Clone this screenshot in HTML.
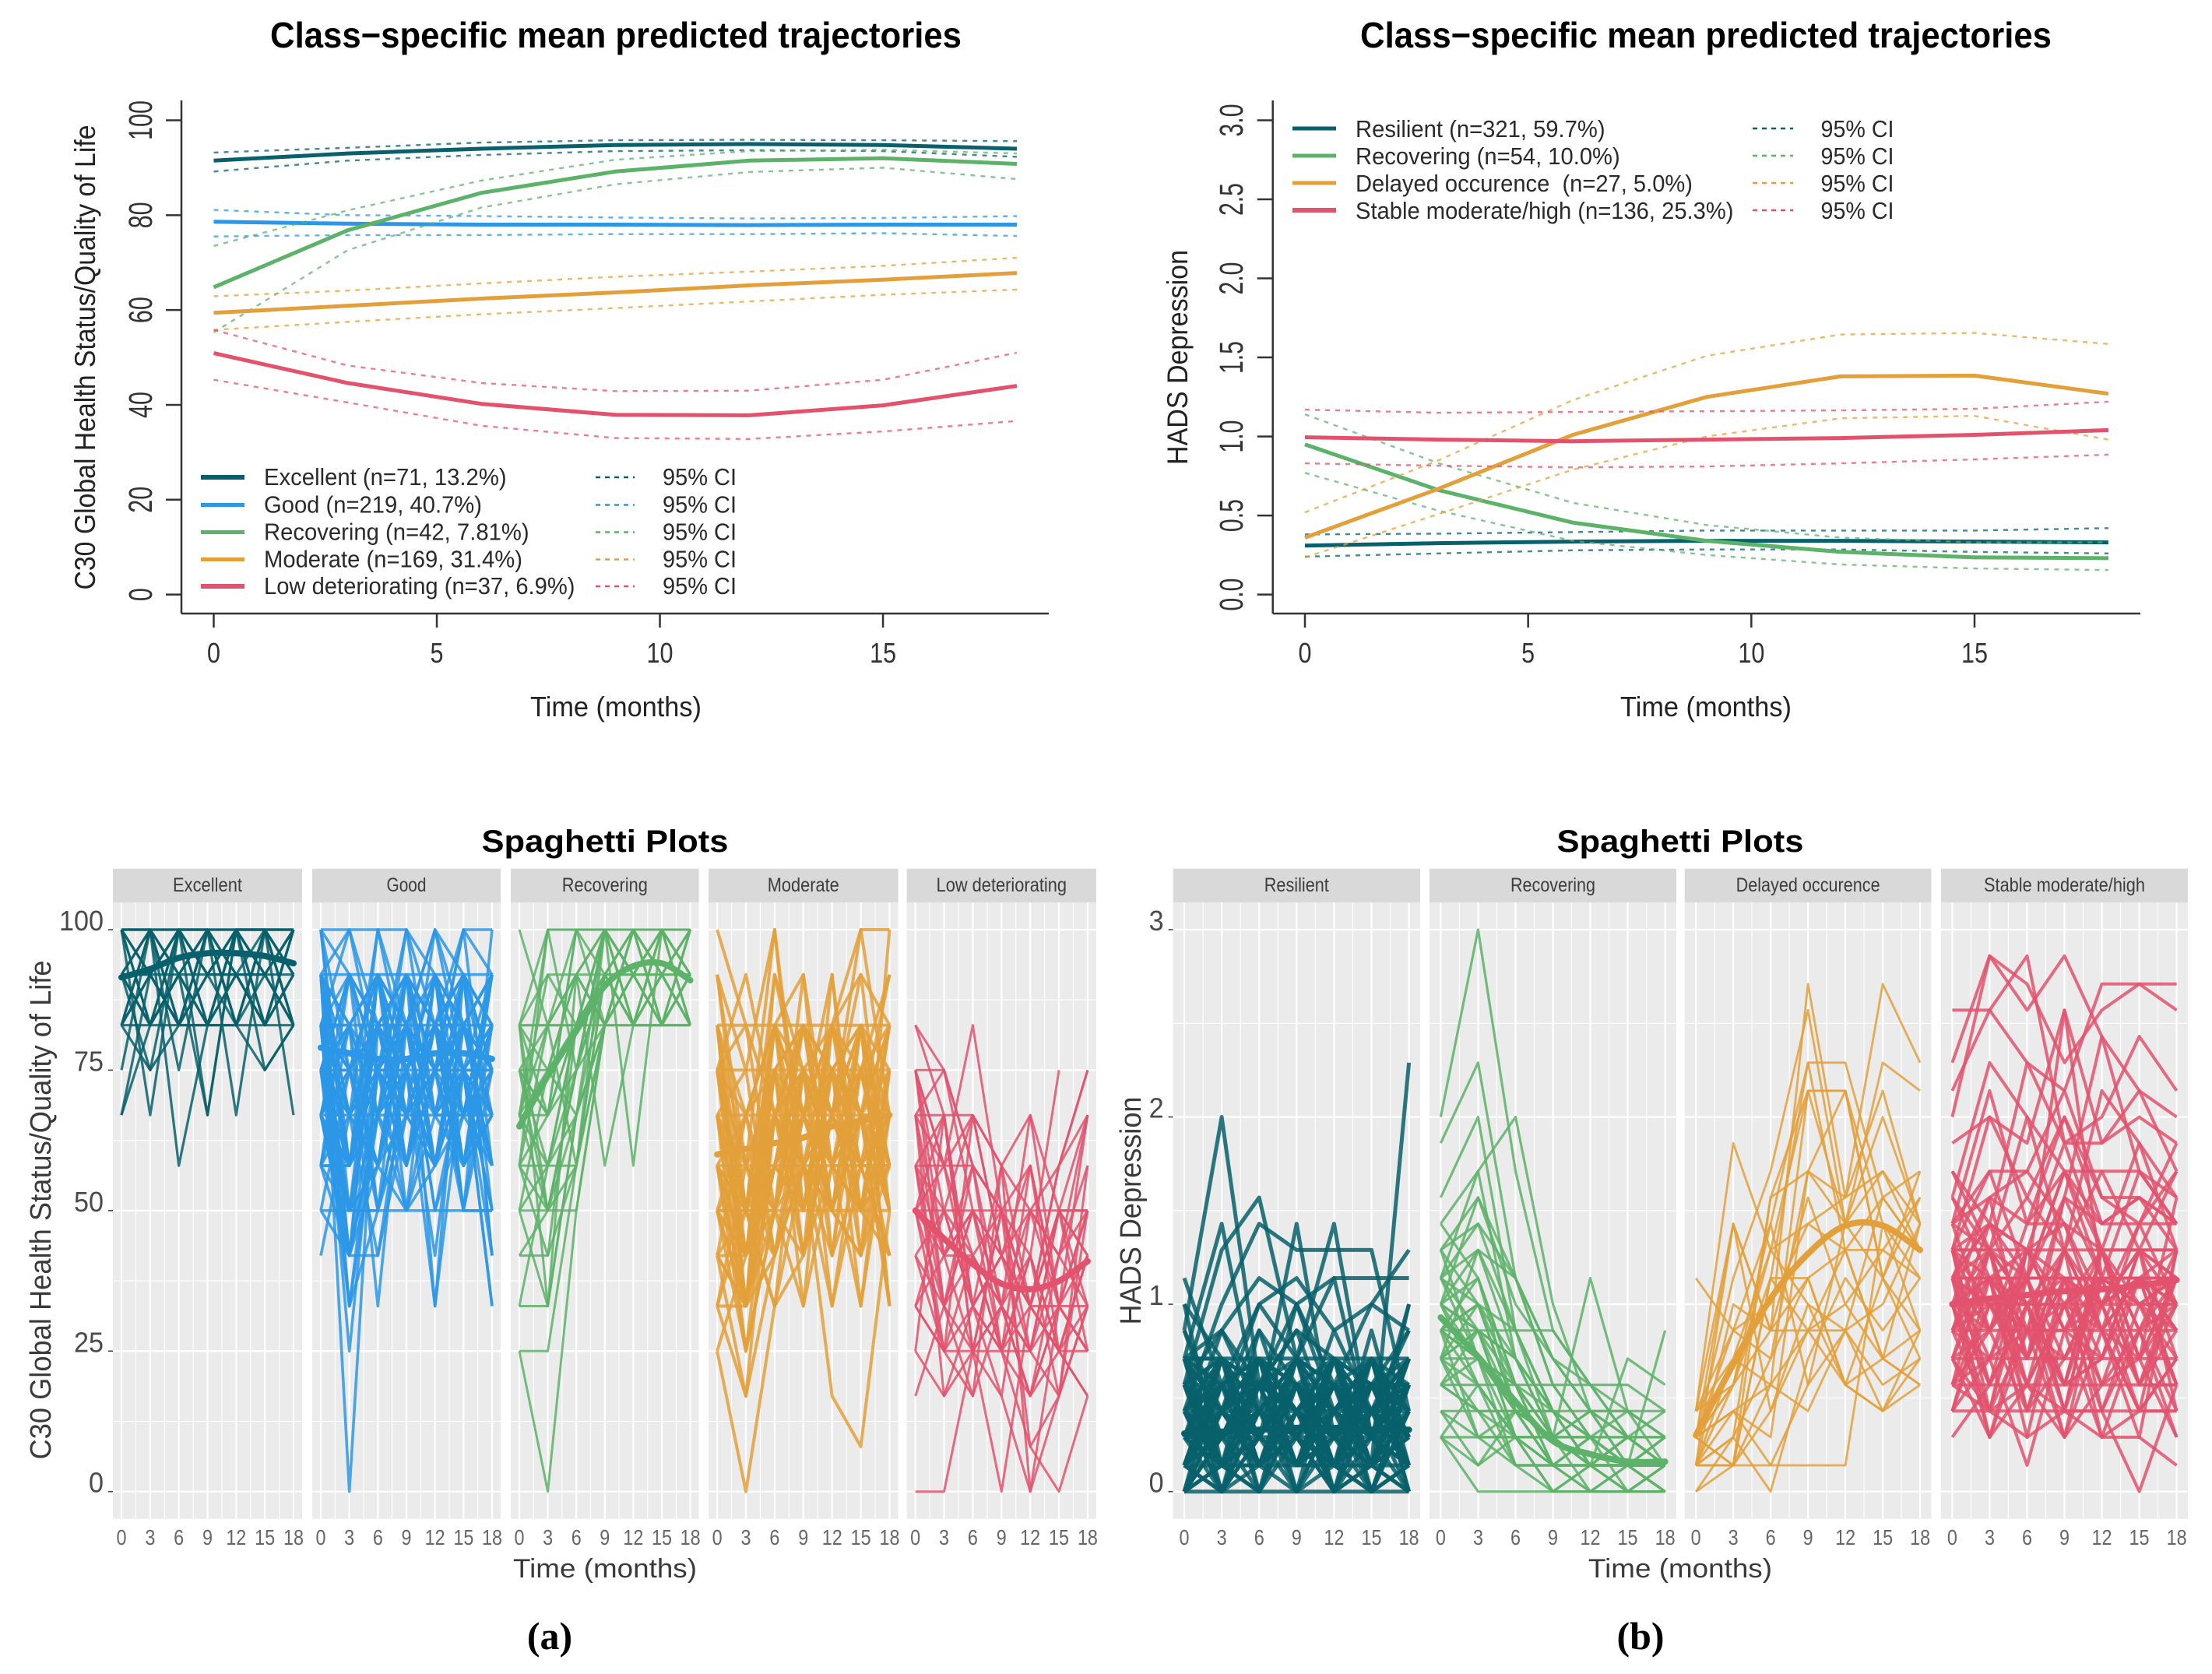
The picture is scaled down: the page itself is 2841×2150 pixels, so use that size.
<!DOCTYPE html>
<html lang="en">
<head>
<meta charset="utf-8">
<title>Class-specific trajectories and spaghetti plots</title>
<style>
html,body{margin:0;padding:0;background:#fff}
svg{display:block}
text{font-family:"Liberation Sans",sans-serif}
.title{font-weight:bold;font-size:46px;fill:#000}
.axt{font-size:36px;fill:#222}
.roty{font-size:37px;fill:#222}
.leg{font-size:31px;fill:#2a2a2a}
.spt{font-weight:bold;font-size:40px;fill:#000}
.cap{font-family:"Liberation Serif",serif;font-weight:bold;font-size:50px;fill:#000}
</style>
</head>
<body>
<svg id="figure" xmlns="http://www.w3.org/2000/svg" width="2841" height="2150" viewBox="0 0 2841 2150">
  <rect x="0" y="0" width="2841" height="2150" fill="#fff"/>

  <text class="title" x="791" y="61" text-anchor="middle" textLength="888" lengthAdjust="spacingAndGlyphs">Class−specific mean predicted trajectories</text>
  <text class="title" x="2191" y="61" text-anchor="middle" textLength="888" lengthAdjust="spacingAndGlyphs">Class−specific mean predicted trajectories</text>
  <text class="axt" x="791" y="920" text-anchor="middle" textLength="220" lengthAdjust="spacingAndGlyphs">Time (months)</text>
  <text class="axt" x="2191" y="920" text-anchor="middle" textLength="220" lengthAdjust="spacingAndGlyphs">Time (months)</text>
  <text class="roty" transform="translate(122 459) rotate(-90)" text-anchor="middle" textLength="597" lengthAdjust="spacingAndGlyphs">C30 Global Health Status/Quality of Life</text>
  <text class="roty" transform="translate(1525 459) rotate(-90)" text-anchor="middle" textLength="276" lengthAdjust="spacingAndGlyphs">HADS Depression</text>

  <g fill="none">
    <line x1="258" x2="314" y1="613" y2="613" stroke="#07606b" stroke-width="6"/>
    <line x1="258" x2="314" y1="648.5" y2="648.5" stroke="#2b97e6" stroke-width="5"/>
    <line x1="258" x2="314" y1="683.5" y2="683.5" stroke="#5db269" stroke-width="5"/>
    <line x1="258" x2="314" y1="718.5" y2="718.5" stroke="#e3a03a" stroke-width="5"/>
    <line x1="258" x2="314" y1="753" y2="753" stroke="#e2526d" stroke-width="6"/>
    <line x1="765" x2="815" y1="613" y2="613" stroke="#07606b" stroke-width="2.4" stroke-dasharray="6 6"/>
    <line x1="765" x2="815" y1="648.5" y2="648.5" stroke="#2b97e6" stroke-width="2.4" stroke-dasharray="6 6"/>
    <line x1="765" x2="815" y1="683.5" y2="683.5" stroke="#5db269" stroke-width="2.4" stroke-dasharray="6 6"/>
    <line x1="765" x2="815" y1="718.5" y2="718.5" stroke="#e3a03a" stroke-width="2.4" stroke-dasharray="6 6"/>
    <line x1="765" x2="815" y1="753" y2="753" stroke="#e2526d" stroke-width="2.4" stroke-dasharray="6 6"/>
  </g>
  <text class="leg" x="339" y="623" textLength="311.6" lengthAdjust="spacingAndGlyphs">Excellent (n=71, 13.2%)</text>
  <text class="leg" x="339" y="658.5" textLength="280" lengthAdjust="spacingAndGlyphs">Good (n=219, 40.7%)</text>
  <text class="leg" x="339" y="693.5" textLength="340.6" lengthAdjust="spacingAndGlyphs">Recovering (n=42, 7.81%)</text>
  <text class="leg" x="339" y="728.5" textLength="332" lengthAdjust="spacingAndGlyphs">Moderate (n=169, 31.4%)</text>
  <text class="leg" x="339" y="763" textLength="399.5" lengthAdjust="spacingAndGlyphs">Low deteriorating (n=37, 6.9%)</text>
  <text class="leg" x="851" y="623" textLength="95" lengthAdjust="spacingAndGlyphs">95% CI</text>
  <text class="leg" x="851" y="658.5" textLength="95" lengthAdjust="spacingAndGlyphs">95% CI</text>
  <text class="leg" x="851" y="693.5" textLength="95" lengthAdjust="spacingAndGlyphs">95% CI</text>
  <text class="leg" x="851" y="728.5" textLength="95" lengthAdjust="spacingAndGlyphs">95% CI</text>
  <text class="leg" x="851" y="763" textLength="95" lengthAdjust="spacingAndGlyphs">95% CI</text>

  <g fill="none">
    <line x1="1660" x2="1716" y1="165" y2="165" stroke="#07606b" stroke-width="5"/>
    <line x1="1660" x2="1716" y1="200" y2="200" stroke="#5db269" stroke-width="5"/>
    <line x1="1660" x2="1716" y1="235" y2="235" stroke="#e3a03a" stroke-width="5"/>
    <line x1="1660" x2="1716" y1="270" y2="270" stroke="#e2526d" stroke-width="6"/>
    <line x1="2251" x2="2303" y1="165" y2="165" stroke="#07606b" stroke-width="2.4" stroke-dasharray="6 6"/>
    <line x1="2251" x2="2303" y1="200" y2="200" stroke="#5db269" stroke-width="2.4" stroke-dasharray="6 6"/>
    <line x1="2251" x2="2303" y1="235" y2="235" stroke="#e3a03a" stroke-width="2.4" stroke-dasharray="6 6"/>
    <line x1="2251" x2="2303" y1="270" y2="270" stroke="#e2526d" stroke-width="2.4" stroke-dasharray="6 6"/>
  </g>
  <text class="leg" x="1741" y="176" textLength="320.6" lengthAdjust="spacingAndGlyphs">Resilient (n=321, 59.7%)</text>
  <text class="leg" x="1741" y="211" textLength="339.7" lengthAdjust="spacingAndGlyphs">Recovering (n=54, 10.0%)</text>
  <text class="leg" x="1741" y="246" textLength="433" lengthAdjust="spacingAndGlyphs" xml:space="preserve">Delayed occurence  (n=27, 5.0%)</text>
  <text class="leg" x="1741" y="281" textLength="485.5" lengthAdjust="spacingAndGlyphs">Stable moderate/high (n=136, 25.3%)</text>
  <text class="leg" x="2338.5" y="176" textLength="94" lengthAdjust="spacingAndGlyphs">95% CI</text>
  <text class="leg" x="2338.5" y="211" textLength="94" lengthAdjust="spacingAndGlyphs">95% CI</text>
  <text class="leg" x="2338.5" y="246" textLength="94" lengthAdjust="spacingAndGlyphs">95% CI</text>
  <text class="leg" x="2338.5" y="281" textLength="94" lengthAdjust="spacingAndGlyphs">95% CI</text>

  <text class="spt" x="777" y="1094" text-anchor="middle" textLength="317" lengthAdjust="spacingAndGlyphs">Spaghetti Plots</text>
  <text class="spt" x="2158" y="1094" text-anchor="middle" textLength="317" lengthAdjust="spacingAndGlyphs">Spaghetti Plots</text>
  <text x="777" y="2026" text-anchor="middle" font-size="34" fill="#3a3a3a" textLength="236" lengthAdjust="spacingAndGlyphs">Time (months)</text>
  <text x="2158" y="2026" text-anchor="middle" font-size="34" fill="#3a3a3a" textLength="236" lengthAdjust="spacingAndGlyphs">Time (months)</text>
  <text transform="translate(65 1554) rotate(-90)" text-anchor="middle" font-size="38" fill="#3a3a3a" textLength="641" lengthAdjust="spacingAndGlyphs">C30 Global Health Status/Quality of Life</text>
  <text transform="translate(1465 1555) rotate(-90)" text-anchor="middle" font-size="38" fill="#3a3a3a" textLength="293" lengthAdjust="spacingAndGlyphs">HADS Depression</text>
  <text class="cap" x="706" y="2118" text-anchor="middle">(a)</text>
  <text class="cap" x="2107" y="2118" text-anchor="middle">(b)</text>
</svg>

<script>
// ---------- shared categories ----------
const timePoints = [0, 3, 6, 9, 12, 15, 18];
const topXTicks = [0, 5, 10, 15];
const facetXTicks = [0, 3, 6, 9, 12, 15, 18];
const qolYTicks = [0, 20, 40, 60, 80, 100];
const hadsYTicks = [0, 0.5, 1, 1.5, 2, 2.5, 3];
const hadsYTickLabels = ['0.0', '0.5', '1.0', '1.5', '2.0', '2.5', '3.0'];
const qolFacetTicks = [0, 25, 50, 75, 100];
const hadsFacetTicks = [0, 1, 2, 3];

// ---------- QoL class means and confidence limits ----------
const qolExcellentMean = [91.5, 93, 94, 94.8, 95, 94.8, 94];
const qolExcellentUpper = [93.2, 94.2, 95.3, 95.8, 95.9, 95.8, 95.6];
const qolExcellentLower = [89.2, 91.5, 92.7, 93.5, 93.7, 93.5, 92.3];
const qolGoodMean = [78.6, 78.2, 78, 78, 77.9, 78, 78];
const qolGoodUpper = [81.1, 80, 79.8, 79.5, 79.3, 79.4, 79.8];
const qolGoodLower = [75.5, 75.8, 75.8, 76, 76, 76.2, 75.6];
const qolRecoveringMean = [64.8, 76.8, 84.7, 89.2, 91.5, 92, 90.8];
const qolRecoveringUpper = [73.5, 81, 87.3, 91.7, 93.5, 93.8, 93];
const qolRecoveringLower = [55.3, 72.6, 81.6, 86.5, 89.1, 90, 87.6];
const qolModerateMean = [59.4, 60.9, 62.4, 63.7, 65.2, 66.4, 67.8];
const qolModerateUpper = [62.9, 64.1, 65.6, 67, 68.1, 69.3, 71];
const qolModerateLower = [55.8, 57.5, 59.1, 60.4, 61.8, 63.2, 64.3];
const qolLowMean = [50.9, 44.6, 40.2, 37.9, 37.8, 39.9, 44];
const qolLowUpper = [55.8, 48.3, 44.6, 42.9, 43, 45.3, 51];
const qolLowLower = [45.3, 40.5, 35.6, 33, 32.8, 34.4, 36.6];

// ---------- HADS class means and confidence limits ----------
const hadsResilientMean = [0.31, 0.325, 0.335, 0.34, 0.34, 0.335, 0.33];
const hadsResilientUpper = [0.38, 0.385, 0.395, 0.405, 0.405, 0.405, 0.42];
const hadsResilientLower = [0.24, 0.26, 0.28, 0.285, 0.285, 0.27, 0.26];
const hadsRecoveringMean = [0.95, 0.66, 0.455, 0.34, 0.27, 0.235, 0.23];
const hadsRecoveringUpper = [1.14, 0.83, 0.58, 0.44, 0.36, 0.33, 0.33];
const hadsRecoveringLower = [0.77, 0.53, 0.34, 0.25, 0.19, 0.165, 0.155];
const hadsDelayedMean = [0.36, 0.67, 1.01, 1.25, 1.38, 1.385, 1.27];
const hadsDelayedUpper = [0.52, 0.85, 1.23, 1.51, 1.645, 1.655, 1.585];
const hadsDelayedLower = [0.235, 0.51, 0.79, 1.0, 1.115, 1.13, 0.98];
const hadsStableMean = [0.995, 0.98, 0.97, 0.98, 0.99, 1.01, 1.04];
const hadsStableUpper = [1.17, 1.15, 1.155, 1.16, 1.165, 1.175, 1.22];
const hadsStableLower = [0.83, 0.815, 0.805, 0.81, 0.83, 0.855, 0.885];

// ---------- spaghetti smooth curves ----------
const spagExcellentSmooth = [91.5, 93, 95, 95.8, 95.8, 95.3, 94];
const spagGoodSmooth = [79, 78, 77, 77, 78, 78, 77];
const spagRecoveringSmooth = [65, 74, 82, 90, 93.5, 94, 91];
const spagModerateSmooth = [60, 61, 62, 63, 65, 66, 67];
const spagLowSmooth = [50, 45, 40.5, 37, 36, 37.5, 41];
const spagResilientSmooth = [0.31, 0.32, 0.33, 0.34, 0.34, 0.33, 0.33];
const spagRecoveringHadsSmooth = [0.93, 0.72, 0.48, 0.27, 0.2, 0.16, 0.16];
const spagDelayedSmooth = [0.3, 0.68, 1.03, 1.27, 1.42, 1.42, 1.29];
const spagStableSmooth = [1.0, 1.03, 1.05, 1.07, 1.08, 1.1, 1.13];

// ---------- spaghetti individual trajectories (visits 0,3,6,9,12,15,18) ----------
const spagExcellent = [
[100,100,100,100,100,100,100],[83,83,83,83,83,83,83],[92,92,92,92,92,92,92],[100,83,100,83,100,83,100],
[83,100,83,100,83,100,83],[92,100,92,83,100,92,83],[100,92,83,92,100,83,92],[83,92,100,100,83,92,100],
[92,83,92,100,92,83,100],[100,83,92,83,92,100,92],[67,92,100,100,83,100,83],[75,100,83,92,100,100,92],
[67,83,92,67,100,92,100],[100,67,100,83,92,83,100],[92,75,83,100,67,100,92],[83,75,100,92,100,75,83],
[100,100,58,83,100,92,83],[92,100,75,100,83,100,67],[83,100,100,92,83,75,83],[100,92,100,67,100,100,100],
[92,83,100,92,92,83,92],[83,92,83,100,100,100,83],[100,100,92,100,92,92,100],[92,92,83,83,83,100,100]
];
const spagGood = [
[100,100,100,100,92,83,92],[100,92,75,100,83,100,100],[92,92,92,92,92,92,92],[92,83,92,83,100,92,83],
[92,100,83,92,75,100,92],[83,83,83,83,83,83,83],[83,67,83,75,83,67,83],[83,92,67,83,100,75,67],
[75,75,75,75,75,75,75],[75,58,92,67,83,83,75],[75,83,67,92,58,75,58],[67,67,67,67,67,67,67],
[67,50,75,58,92,67,75],[67,75,58,83,67,92,50],[58,58,83,67,75,58,67],[58,75,50,75,83,50,83],
[50,42,67,50,75,83,58],[42,67,75,67,58,75,42],[92,0,83,75,83,83,75],[83,25,75,83,67,75,83],
[75,33,67,92,75,92,83],[92,42,92,58,83,67,92],[83,50,58,83,92,83,58],[100,58,100,75,42,83,67],
[92,67,42,67,83,50,50],[83,83,33,83,75,83,75],[75,92,50,75,33,75,33],[67,83,92,50,58,75,83],
[58,92,83,92,33,92,42],[92,75,67,100,67,58,92],[83,100,75,58,92,50,100],[75,67,100,83,50,75,67],
[67,92,83,67,100,83,75],[100,75,58,92,75,100,58],[92,58,75,83,67,67,83],[83,75,92,75,58,92,75],
[75,50,83,92,83,58,67],[67,42,67,75,92,75,58],[58,83,92,58,75,83,92],[83,58,75,67,83,75,50],
[92,83,67,92,67,83,75],[75,92,75,83,75,67,83],[67,58,83,58,83,92,75],[83,67,58,83,58,83,92],
[58,50,67,75,92,58,83],[50,75,83,83,75,50,75],[75,42,42,75,83,92,42],[92,33,75,67,83,83,67],
[83,42,58,50,67,75,83],[100,50,92,83,50,67,92],[67,50,50,67,83,75,33],[58,42,75,92,58,83,58],
[50,50,50,50,50,50,50],[92,58,83,75,92,50,50],
[83,75,83,92,83,92,83],[75,83,75,67,75,58,75],[67,75,92,83,67,75,92],[58,67,58,67,83,67,58],
[92,67,75,75,92,75,67],[83,58,92,67,58,92,83],[75,75,58,92,83,75,50],[67,58,67,83,75,83,67],
[83,50,83,58,83,58,92],[75,58,75,83,58,67,75],[92,42,67,83,75,83,58],[83,67,75,50,92,75,75],
[67,83,50,92,67,92,67],[75,50,58,75,67,67,92],[58,58,67,58,75,75,83],[83,33,50,75,92,58,67],
[75,67,83,67,83,83,58],[67,42,92,75,58,75,83]
];
const spagRecovering = [
[100,83,100,100,83,100,92],[83,100,100,100,92,83,100],[83,75,92,100,100,92,83],[83,67,100,92,83,100,92],
[83,92,83,100,92,100,83],[75,83,92,83,100,83,92],[75,58,83,92,83,92,100],[75,50,75,100,92,100,83],
[67,100,100,83,100,92,83],[67,83,83,92,83,83,100],[67,50,67,83,100,100,92],[67,75,92,58,83,92,83],
[58,50,75,100,58,100,100],[58,67,83,100,92,83,92],[58,42,58,92,100,92,83],[58,83,92,83,92,100,100],
[50,50,58,83,100,83,92],[50,75,83,100,83,92,83],[50,33,67,100,92,83,100],[42,42,83,92,83,100,92],
[42,50,50,83,100,92,100],[33,33,92,100,83,92,83],[33,58,75,83,92,100,83],[25,25,58,92,100,83,100],
[25,0,50,83,92,83,92],[83,33,67,92,83,100,83],[75,67,100,100,100,100,100],[67,92,92,92,92,92,92],
[83,83,83,83,83,83,83],[58,100,75,100,83,83,83],
[83,50,75,92,100,83,83],[75,75,67,83,92,100,92],[67,58,58,100,83,83,92],[58,58,67,83,83,100,100],
[50,58,83,92,92,92,100],[83,83,58,83,100,92,92],[67,67,75,92,83,92,83],[75,67,83,100,92,83,92]
];
const spagModerate = [
[100,83,67,75,58,67,50],[92,58,50,67,83,100,100],[92,75,100,50,83,92,83],[83,83,83,83,83,83,83],
[83,50,67,75,58,50,67],[83,33,92,67,50,83,58],[75,75,75,75,75,75,75],[75,42,58,83,67,75,50],
[75,92,67,58,83,67,92],[67,67,67,67,67,67,67],[67,50,83,50,75,58,42],[67,33,75,42,92,50,83],
[58,58,58,58,58,58,58],[58,42,67,83,50,83,33],[58,25,50,67,75,42,75],[50,50,50,50,50,50,50],
[50,33,83,58,42,75,58],[50,67,42,75,67,50,83],[42,42,58,67,50,67,42],[42,50,75,33,58,33,67],
[42,17,67,50,83,58,75],[33,33,50,58,67,92,50],[33,50,33,42,75,50,58],[33,58,67,75,33,67,33],
[25,0,33,58,17,8,50],[25,42,75,83,58,75,67],[83,67,50,42,67,83,58],[75,50,92,75,42,58,67],
[67,42,58,83,75,67,83],[58,33,75,50,83,75,50],[50,25,67,42,58,83,75],[83,42,83,67,92,42,58],
[75,33,58,50,67,58,42],[67,75,42,67,50,75,92],[58,67,83,92,58,50,75],[50,58,50,75,83,67,67],
[42,33,67,58,75,83,50],[83,58,100,58,67,100,67],[75,67,75,83,50,42,100],[67,25,50,33,83,67,58],
[58,50,42,58,33,58,83],[50,42,58,67,75,33,75],[92,50,33,75,58,50,42],[75,83,50,92,42,83,33],
[33,17,42,58,50,42,67],[42,67,83,42,67,58,58],
[67,50,67,58,67,58,67],[58,50,58,75,58,75,58],[75,58,75,58,50,67,50],[50,42,75,67,58,58,67],
[67,42,50,75,67,83,58],[58,33,67,83,67,50,75],[75,42,67,50,75,67,83],[50,50,83,67,83,50,58],
[83,33,58,75,58,75,50],[42,33,58,50,67,75,83],[67,58,42,58,75,58,42],[58,42,83,75,50,67,75],
[75,50,50,83,75,83,67],[50,33,42,67,58,67,33]
];
const spagLow = [
[83,75,50,33,17,42,50],[75,75,58,50,33,25,25],[75,58,83,50,25,42,58],[75,50,67,58,0,17,33],
[67,67,67,42,58,33,67],[67,42,50,33,67,50,50],[67,75,58,25,42,75,null],[58,58,58,50,33,50,67],
[58,33,42,25,58,25,42],[58,50,33,42,50,58,75],[50,50,50,50,50,50,50],[50,42,58,33,25,33,50],
[50,25,33,17,50,42,33],[50,67,33,58,67,33,25],[50,33,50,42,33,50,42],[42,33,25,50,42,25,33],
[42,50,42,33,17,33,50],[33,50,33,42,33,50,42],[33,25,42,33,25,17,33],[33,42,25,0,33,50,25],
[25,67,25,33,17,25,42],[25,17,33,25,8,0,17],[17,33,50,42,33,25,17],[0,0,25,17,0,33,25],
[75,58,42,50,33,33,33],[67,17,25,33,42,25,17],[58,67,25,50,8,17,58],[75,33,17,58,50,42,67],
[50,58,67,42,33,58,75],[83,67,33,25,17,33,42],[42,25,17,33,50,33,25],[33,25,25,25,25,50,50],
[67,33,58,50,58,33,25],[58,25,67,58,33,58,67],
[67,58,33,42,25,50,33],[75,42,42,25,33,25,42],[58,42,50,25,42,17,50]
];
const spagResilient = [
[1.14,.57,.71,.43,.29,.57,.29],[1,.14,.86,.29,.57,.14,.43],[.86,2,.57,.14,.43,.71,.29],[.71,1.43,.43,1.43,.29,.43,.57],
[.57,1.29,1.57,.71,1.43,.29,.14],[.43,1,1.43,1.29,1.29,1.29,.43],[.29,.86,1.14,1,1.14,1.14,1.14],[.14,.57,1,1.14,.86,1,1.29],
[0,.29,.71,.57,.43,.14,2.29],[.86,.43,1,.71,1.14,.29,1],[1,.71,.29,1,.57,1,.86],[.71,.86,.57,.86,.71,.57,.86],
[0,0,0,0,0,0,0],[0,.14,0,.29,0,.14,0],[.14,0,.14,0,.14,0,.14],[.14,.14,.14,.14,.14,.14,.14],
[.29,.29,.29,.29,.29,.29,.29],[.43,.43,.43,.43,.43,.43,.43],[.57,.57,.57,.57,.57,.57,.57],[.71,.71,.71,.71,.71,.71,.71],
[0,.43,.14,.57,.29,.71,0],[.71,0,.57,.14,.43,.29,.71],[.29,.71,0,.43,.14,.57,.29],[.57,.14,.43,0,.71,.29,.14],
[.14,.57,.29,.71,0,.43,.57],[.43,.29,.71,.14,.57,0,.43],[.29,0,.29,.57,.14,.29,.71],[.57,.43,.14,.29,.71,.14,0],
[.71,.29,.43,.71,.29,.57,.14],[0,.71,.57,0,.43,.71,.29],[.43,.14,0,.43,.57,.14,.57],[.14,.29,.57,.14,.29,.43,.71],
[.29,.57,.71,.29,0,.57,.43],[.57,.71,.29,.57,.14,.71,.29],[0,.29,.43,.14,.71,.43,.14],[.71,.43,.14,.57,.29,0,.57],
[.43,.57,0,.71,.43,.29,0],[.14,.71,.43,.29,.57,.14,.29],[.29,.14,.57,.43,0,.71,.43],[.57,0,.71,.29,.14,.43,.71],
[.14,.43,.29,0,.43,.57,.14],[.43,.71,.14,.43,.71,.29,.57],[.71,.14,.29,.57,0,.14,.29],[0,.57,.14,.71,.57,.29,.43],
[.29,.43,.57,.14,.71,0,.14],[.57,.29,0,.57,.29,.71,0],[.14,0,.43,.29,.14,.57,.71],[.43,.29,.71,0,.29,.14,.43],
[.71,.57,.29,.14,.43,.57,.29],[0,.14,.57,.43,.14,0,.57],[.29,.71,.14,.57,.43,.29,.14],[.57,.14,.29,.71,.57,.43,0],
[.14,.29,.14,.43,.29,.71,.43],[.43,.57,.43,.29,.71,.14,.71],[.71,.43,.57,.14,.14,.57,.14],[0,.29,.71,.29,.57,.43,.29],
[.29,.14,.43,.71,.14,.29,.57],[.57,.71,.14,.43,.29,.14,.43],[.14,.57,.71,.57,0,.29,.71],[.43,0,.29,.14,.57,.71,.29],
[.86,.29,.57,1,.43,.57,.57],[.57,.86,.43,.29,.86,.43,.86],[.29,.43,.86,.57,.14,.86,.14],[.43,.14,.57,.86,.29,.14,1],
[.71,.14,.71,.29,.71,.14,.71],[.14,.71,.14,.71,.14,.71,.14],[.57,.29,.57,.14,.57,.29,.57],[.29,.57,.29,.57,.29,.57,.29],
[.43,0,.43,.71,.43,0,.43],[0,.43,.71,.43,0,.43,.71],[.71,.57,.71,.43,.71,.43,.29],[.57,.43,.29,.71,.14,.57,.14],
[.14,.29,.43,.57,.71,.57,.43],[.43,.71,.57,.43,.29,.14,.29],[.29,.43,.14,.29,.43,.71,.57],[.57,.14,.14,.43,.57,.29,.71],
[.14,.43,.71,.14,.29,.43,.14],[.43,.14,.29,.57,.14,.14,.57],[.29,.29,.57,.71,.57,.14,.43],[.71,.71,.43,.29,.14,.43,.57]
];
const spagRecoveringHads = [
[2,3,1.71,.86,.57,.29,.14],[1.86,2.29,1.14,.57,.29,.14,.14],[1.57,2,.86,.43,.14,.14,0],[1.43,1.71,2,1,.43,.29,.14],
[1.29,1.57,1.14,.71,.43,.29,.29],[1.29,1.43,.86,.86,.57,.57,.43],[1.14,1.71,.71,.29,1.14,.43,.29],[1.14,1.29,1.14,.57,.29,.14,.86],
[1,1.14,.57,.43,.14,.71,.57],[1,1.57,1,.71,.43,.43,.29],[.86,.71,.43,.14,0,0,0],[.86,1.14,.57,.29,.14,.14,.14],
[.86,1,.86,.43,.29,.29,.14],[.71,.86,.43,.29,.43,.14,0],[.71,.71,.14,0,0,0,0],[.71,1.29,.71,.43,.29,.14,.14],
[.57,.57,.57,.57,.57,.43,.14],[.57,.43,.29,.14,.14,.29,.43],[.57,.71,.57,.29,.14,0,.14],[.43,.43,.43,.43,.43,.43,.43],
[.43,.14,.43,.29,.14,.14,.29],[.29,.29,.29,.14,.29,.29,.29],[.29,.57,.14,.14,0,.14,.14],[.29,0,0,0,0,0,0],
[1.14,.86,.29,0,.14,.29,.14],[1,.57,.29,.29,.14,.14,.29],[.86,.29,.29,.14,.29,0,.14],[.71,.43,.14,.14,.14,.14,.14],
[.57,.86,.86,.29,.29,.14,0],[1.29,.71,.43,.43,.14,.29,.14],[1.14,1,.57,.14,.29,.14,.14],[1,.86,.71,.29,.14,.14,.29],
[.86,.57,.29,.29,.43,.14,.14],[.71,1,.43,.14,.14,0,.14],[1.43,1.14,.43,.43,.29,.14,.14],[1,.71,.57,.29,.29,.14,0],
[.86,.86,.57,.14,.14,.29,.14],[.71,.57,.29,.29,0,.14,.29],
[1.29,1,.71,.43,.29,.14,.14],[1.14,.71,.43,.29,.14,.29,.14],[1,1.29,.86,.43,.29,.14,.14],[.86,.71,.29,.29,.29,.43,.29],
[.71,.29,.43,.14,.14,.14,0],[.57,.43,.43,.29,.14,.14,.14],[.43,.29,.14,.14,.14,0,.14],[1.14,1.43,1.14,.71,.57,.29,.14],
[.86,1,.43,.14,.29,.14,.14],[1,.86,.29,.29,.14,.14,.14],[.71,.86,.71,.43,.14,.29,.14],[.29,.14,.29,0,.14,.14,0]
];
const spagDelayed = [
[.14,.14,.14,.14,.14,1.43,1.14],[1.14,.86,.71,1.14,.57,.71,.57],[.43,1.86,1.29,1,.86,.43,.71],[.43,1.43,.86,2.71,1.57,2.71,2.29],
[.29,1.14,1.71,2.57,1.43,2.29,2.14],[.29,.57,1.14,2.29,2.29,1.57,1.29],[.29,.86,1.43,2.29,1.29,.71,.86],[.29,.43,.57,2.14,2.14,1.14,.86],
[.14,.29,1.57,2.14,1.43,2,1.43],[.14,.43,.29,1.71,1.43,1.14,1.71],[.14,1,.86,1.57,1,1.29,1.57],[.14,.71,1.29,1.43,1.57,1.71,1.29],
[.14,.14,1.14,1.14,.57,.43,.86],[.43,.57,.86,.86,1,.71,.57],[.29,.14,.57,.43,.86,1.57,1.71],[0,.29,0,.71,1.14,.86,1.14],
[0,.14,.43,1,.57,1.14,1.57],[.14,.57,1.43,.57,.86,1,1.43],[.29,1.43,.43,.86,1.29,.71,1.43],[.43,.86,1,1.43,1.29,1.57,1.29],
[.14,.29,.71,1.71,2.14,1.14,.71],[.29,.43,.14,.57,1.43,1.71,1.43],[.29,.14,1.14,.86,.86,.57,.71],[.14,.14,1.57,1.71,1.57,2.14,1.43],
[.43,.71,.57,.86,.57,.43,.57],[.14,1.43,.86,1.14,1.29,1.29,1.14],[.29,.57,1.29,2.14,2.14,1.43,.86]
];
const spagStable = [
[2.57,2.57,2.29,2.14,2.71,2.71,2.71],[2.29,2.86,2.71,2.29,2.57,2.71,2.57],[2,2.86,2.57,2.86,2.43,1.71,1.43],[2.14,2.57,2.86,1.86,2,2.43,2.14],
[1.86,2,1.86,2.57,1.86,2.14,2],[1.71,1.43,2.29,1.86,1.86,2,1.86],[1.57,2.29,2,1.71,1.71,1.71,1.57],[1.43,1.57,1.71,2.14,1.57,1.43,1.71],
[1.29,2,1.57,2,1.43,1.57,1.43],[1.14,1.43,1.29,1.86,1.29,1.29,1.29],[1.57,1.14,1.14,2.57,1.14,1.14,1.14],[1.43,1.29,2,1.29,2.14,1.86,1.29],
[1.29,1.29,1.29,1.29,1.29,1.29,1.29],[1.14,1.14,1.14,1.14,1.14,1.14,1.14],[1,1,1,1,1,1,1],[1.14,1,1.14,1.14,1.14,1,1.14],
[1,1.14,1,1.14,1,1.14,1],[.86,.86,.86,.86,.86,.86,.86],[.71,.71,.71,.71,.71,.71,.71],[.57,.57,.57,.57,.57,.57,.57],
[.43,.43,.43,.43,.43,.43,.43],[1.29,.86,1.14,.57,1.29,.86,1.29],[1.14,.57,1.29,.86,1.14,.57,1.14],[1,1.29,.71,1.14,.71,1.29,.71],
[.86,1.14,.57,1.29,.86,1.14,.86],[.71,1.29,.43,1,1.29,.71,1.14],[.57,1,.86,.71,1.14,1,.57],[.43,.71,1.14,.43,1,1.29,1],
[.29,.57,1,.57,.71,1.14,.86],[1.29,.43,.86,1,.43,.86,.43],[1.14,.29,1,.29,.86,.43,.71],[1,.43,.29,1.14,.57,.71,.29],
[.86,.71,.14,.86,.29,.29,.14],[.71,1.14,.29,.43,.43,0,.57],[.57,1.29,.71,1.29,.86,.43,1.29],[.43,1,.57,.29,1.14,1,.86],
[1.14,.86,1.29,1,.57,1.14,.57],[1,.57,1,.57,1.29,.86,1.14],[.86,1,.71,1.14,1,.57,1],[.71,.43,1.29,.86,.71,1.29,.43],
[.57,.86,1.14,.43,1.29,.71,1.14],[1.29,1.14,.43,.71,1.14,.57,.86],[1.14,.71,.86,1.29,.43,1,.71],[1,.29,.57,1,.86,.29,1.29],
[.86,1.29,1,.57,1.14,1.14,.57],[.71,.86,.43,1.14,.29,.86,1],[.57,.71,1.29,.86,1,.43,.71],[.43,1.14,.86,.57,.71,1.29,1.14],
[1.29,1,.71,1.29,.86,.71,1],[1.14,1.29,.57,1,1.14,1.14,.86],[1,.86,1.14,.71,1,1.29,1.14],[.86,.43,1.14,1.14,1.14,1.14,1.29],
[1.14,1.14,.86,.86,1.29,1,1.14],[1,1.14,1.29,1.14,.86,1.14,1],[1.14,1,1,1.29,1,1.14,1.14],[1.29,1.29,1,1,1.14,1,1],
[1.43,2.14,1.43,2,1.57,1.57,1.43],[1.71,1.29,1.14,1.57,2.43,2.14,1.71],[1.29,1.71,1.71,1.43,1.29,1.86,1.57],[1.14,1.57,1.43,1.71,1.43,1.43,1.86],
[1.57,1.29,1.57,1.29,1.71,1.29,1.71],[1.43,1.71,1.14,1.71,1.14,1.71,1.43],[1.29,1.43,.86,1.57,1.43,1.57,1.29],[1.43,.86,1.43,1.43,1,1.43,1.43],
[1.14,1.43,1.29,1.43,.86,1.43,1],[.86,1.43,1.14,1.71,1.29,.71,1.57],[1,1.57,.71,1.57,1.14,1.14,.86],[1.29,.57,1,.43,1.29,.57,.57],
[.71,.29,.86,.29,.57,.86,.29],[.57,.43,.57,.43,.29,.43,.43]
];

// ---------- drawing helpers ----------
const SVG_NS = 'http://www.w3.org/2000/svg';
const figure = document.getElementById('figure');

function makeLine(parent, name, x1, y1, x2, y2, stroke, width) {
  const el = document.createElementNS(SVG_NS, 'line');
  
  
  el.setAttribute('x1', x1);
  el.setAttribute('y1', y1);
  el.setAttribute('x2', x2);
  el.setAttribute('y2', y2);
  el.setAttribute('stroke', stroke);
  el.setAttribute('stroke-width', width);
  parent.appendChild(el);
  return el;
}
function makeRect(parent, name, x, y, w, h, fill) {
  const el = document.createElementNS(SVG_NS, 'rect');
  
  
  el.setAttribute('x', x);
  el.setAttribute('y', y);
  el.setAttribute('width', w);
  el.setAttribute('height', h);
  el.setAttribute('fill', fill);
  parent.appendChild(el);
  return el;
}
function makeText(parent, name, content, x, y, size, fill, anchor, length, rotate) {
  const el = document.createElementNS(SVG_NS, 'text');
  
  
  el.setAttribute('font-size', size);
  el.setAttribute('fill', fill);
  el.setAttribute('text-anchor', anchor);
  if (rotate) {
    el.setAttribute('transform', 'translate(' + x + ' ' + y + ') rotate(-90)');
  } else {
    el.setAttribute('x', x);
    el.setAttribute('y', y);
  }
  el.setAttribute('textLength', length);
  el.setAttribute('lengthAdjust', 'spacingAndGlyphs');
  el.textContent = content;
  parent.appendChild(el);
  return el;
}
function makeGroup(name) {
  const el = document.createElementNS(SVG_NS, 'g');
  
  
  figure.appendChild(el);
  return el;
}
function makePolyline(parent, name, points, stroke, width, opacity, dash) {
  const el = document.createElementNS(SVG_NS, 'polyline');
  
  
  el.setAttribute('points', points.map(function (p) { return p[0].toFixed(1) + ',' + p[1].toFixed(1); }).join(' '));
  el.setAttribute('fill', 'none');
  el.setAttribute('stroke', stroke);
  el.setAttribute('stroke-width', width);
  el.setAttribute('stroke-opacity', opacity);
  el.setAttribute('stroke-linejoin', 'round');
  if (dash) el.setAttribute('stroke-dasharray', dash);
  parent.appendChild(el);
  return el;
}
function smoothPath(parent, name, pts, stroke, width) {
  let d = 'M' + pts[0][0].toFixed(1) + ' ' + pts[0][1].toFixed(1);
  for (let i = 0; i < pts.length - 1; i++) {
    const p0 = pts[Math.max(i - 1, 0)], p1 = pts[i], p2 = pts[i + 1], p3 = pts[Math.min(i + 2, pts.length - 1)];
    const c1x = p1[0] + (p2[0] - p0[0]) / 6, c1y = p1[1] + (p2[1] - p0[1]) / 6;
    const c2x = p2[0] - (p3[0] - p1[0]) / 6, c2y = p2[1] - (p3[1] - p1[1]) / 6;
    d += 'C' + c1x.toFixed(1) + ' ' + c1y.toFixed(1) + ' ' + c2x.toFixed(1) + ' ' + c2y.toFixed(1) + ' ' + p2[0].toFixed(1) + ' ' + p2[1].toFixed(1);
  }
  const el = document.createElementNS(SVG_NS, 'path');
  
  
  el.setAttribute('d', d);
  el.setAttribute('fill', 'none');
  el.setAttribute('stroke', stroke);
  el.setAttribute('stroke-width', width);
  el.setAttribute('stroke-linecap', 'round');
  parent.appendChild(el);
  return el;
}

// ---------- top trajectory charts ----------
function drawTrajectory(chart) {
  const g = makeGroup(chart.name);
  const xScale = function (t) { return chart.x0 + t * (chart.x18 - chart.x0) / 18; };
  const yScale = function (v) { return 763.6 - v * (763.6 - 154.5) / chart.yMax; };
  makeLine(g, 'y-axis-line', chart.axisX, 129, chart.axisX, 788, '#333', 2.5);
  makeLine(g, 'x-axis-line', chart.axisX, 788, chart.axisRight, 788, '#333', 2.5);
  chart.yTicks.forEach(function (v, i) {
    const y = yScale(v);
    makeLine(g, 'y-tick', chart.axisX - 20, y, chart.axisX, y, '#333', 2.5);
    const label = chart.yLabels[i];
    makeText(g, 'y-tick-label', label, chart.labelX, y, 43, '#333', 'middle', label.length === 3 && label.indexOf('.') > 0 ? 42 : 17 * label.length, true);
  });
  topXTicks.forEach(function (t) {
    const x = xScale(t);
    makeLine(g, 'x-tick', x, 788, x, 806, '#333', 2.5);
    makeText(g, 'x-tick-label', String(t), x, 851, 36, '#333', 'middle', 17 * String(t).length, false);
  });
  chart.series.forEach(function (s) {
    const toPts = function (arr) { return arr.map(function (v, i) { return [xScale(timePoints[i]), yScale(v)]; }); };
    makePolyline(g, s.id + '-ci-upper', toPts(s.upper), s.color, 2.4, 0.75, '6 7');
    makePolyline(g, s.id + '-ci-lower', toPts(s.lower), s.color, 2.4, 0.75, '6 7');
    makePolyline(g, s.id + '-mean-line', toPts(s.mean), s.color, 5, 1, null);
  });
}
const colTeal = '#07606b', colBlue = '#2b97e6', colGreen = '#5db269', colOrange = '#e3a03a', colRed = '#e2526d';

drawTrajectory({
  name: 'left-trajectory-chart', x0: 274.5, x18: 1306, axisX: 233, axisRight: 1347, yMax: 100, labelX: 195,
  yTicks: qolYTicks, yLabels: qolYTicks.map(String),
  series: [
    { id: 'excellent', color: colTeal, mean: qolExcellentMean, upper: qolExcellentUpper, lower: qolExcellentLower },
    { id: 'good', color: colBlue, mean: qolGoodMean, upper: qolGoodUpper, lower: qolGoodLower },
    { id: 'recovering', color: colGreen, mean: qolRecoveringMean, upper: qolRecoveringUpper, lower: qolRecoveringLower },
    { id: 'moderate', color: colOrange, mean: qolModerateMean, upper: qolModerateUpper, lower: qolModerateLower },
    { id: 'low-deteriorating', color: colRed, mean: qolLowMean, upper: qolLowUpper, lower: qolLowLower }
  ]
});
drawTrajectory({
  name: 'right-trajectory-chart', x0: 1676, x18: 2708, axisX: 1634.7, axisRight: 2749, yMax: 3, labelX: 1596,
  yTicks: hadsYTicks, yLabels: hadsYTickLabels,
  series: [
    { id: 'resilient', color: colTeal, mean: hadsResilientMean, upper: hadsResilientUpper, lower: hadsResilientLower },
    { id: 'recovering-hads', color: colGreen, mean: hadsRecoveringMean, upper: hadsRecoveringUpper, lower: hadsRecoveringLower },
    { id: 'delayed', color: colOrange, mean: hadsDelayedMean, upper: hadsDelayedUpper, lower: hadsDelayedLower },
    { id: 'stable', color: colRed, mean: hadsStableMean, upper: hadsStableUpper, lower: hadsStableLower }
  ]
});

// ---------- spaghetti facets ----------
const FACET_TOP = 1159.3, FACET_BOTTOM = 1950.7, STRIP_TOP = 1115.7, Y_MAX_PX = 1194, Y_ZERO_PX = 1915.7;

function drawFacet(facet) {
  const g = makeGroup('facet-' + facet.id);
  const w = facet.right - facet.left;
  const x0 = facet.left + w * 0.04545, x18 = facet.right - w * 0.04545;
  const xScale = function (t) { return x0 + t * (x18 - x0) / 18; };
  const yScale = function (v) { return Y_ZERO_PX - v * (Y_ZERO_PX - Y_MAX_PX) / facet.yMax; };
  makeRect(g, 'facet-strip', facet.left, STRIP_TOP, w, FACET_TOP - STRIP_TOP, '#d9d9d9');
  makeText(g, 'facet-strip-label', facet.label, (facet.left + facet.right) / 2, 1145, 25, '#3d3d3d', 'middle', facet.labelWidth, false);
  makeRect(g, 'facet-panel', facet.left, FACET_TOP, w, FACET_BOTTOM - FACET_TOP, '#ebebeb');

  facet.yTicks.forEach(function (v, i) {
    const y = yScale(v);
    makeLine(g, 'grid-major-y', facet.left, y, facet.right, y, '#fff', 2.2);
    if (i < facet.yTicks.length - 1) {
      const ym = yScale((v + facet.yTicks[i + 1]) / 2);
      makeLine(g, 'grid-minor-y', facet.left, ym, facet.right, ym, '#fff', 1.1);
    }
  });
  facetXTicks.forEach(function (t, i) {
    const x = xScale(t);
    makeLine(g, 'grid-major-x', x, FACET_TOP, x, FACET_BOTTOM, '#fff', 2.2);
    if (i < facetXTicks.length - 1) {
      const xm = xScale((t + facetXTicks[i + 1]) / 2);
      makeLine(g, 'grid-minor-x', xm, FACET_TOP, xm, FACET_BOTTOM, '#fff', 1.1);
    }
    makeText(g, 'x-tick-label', String(t), x, 1984, 28, '#666', 'middle', 13 * String(t).length, false);
  });

  facet.lines.forEach(function (row) {
    const pts = [];
    row.forEach(function (v, i) { if (v !== null) pts.push([xScale(timePoints[i]), yScale(v)]); });
    makePolyline(g, facet.id + '-trajectory', pts, facet.color, facet.lineWidth, 0.85, null);
  });
  smoothPath(g, facet.id + '-smooth-curve', facet.smooth.map(function (v, i) { return [xScale(timePoints[i]), yScale(v)]; }), facet.color, 8);

  if (facet.showY) {
    facet.yTicks.forEach(function (v) {
      const y = yScale(v);
      makeLine(g, 'y-tick', facet.left - 6, y, facet.left, y, '#444', 1.6);
      makeText(g, 'y-tick-label', String(v), facet.left - 12, y + 1, 36, '#4a4a4a', 'end', 19 * String(v).length, false);
    });
  }
}

const facets = [
  { id: 'excellent', label: 'Excellent', labelWidth: 89, left: 145, right: 388, color: colTeal, lines: spagExcellent, smooth: spagExcellentSmooth, lineWidth: 3.2, yMax: 100, yTicks: qolFacetTicks, showY: true },
  { id: 'good', label: 'Good', labelWidth: 51, left: 401, right: 643, color: colBlue, lines: spagGood, smooth: spagGoodSmooth, lineWidth: 3.6, yMax: 100, yTicks: qolFacetTicks, showY: false },
  { id: 'recovering', label: 'Recovering', labelWidth: 110, left: 656, right: 897.6, color: colGreen, lines: spagRecovering, smooth: spagRecoveringSmooth, lineWidth: 3, yMax: 100, yTicks: qolFacetTicks, showY: false },
  { id: 'moderate', label: 'Moderate', labelWidth: 92, left: 910, right: 1153.6, color: colOrange, lines: spagModerate, smooth: spagModerateSmooth, lineWidth: 4, yMax: 100, yTicks: qolFacetTicks, showY: false },
  { id: 'low-deteriorating', label: 'Low deteriorating', labelWidth: 167.5, left: 1164.6, right: 1408, color: colRed, lines: spagLow, smooth: spagLowSmooth, lineWidth: 3, yMax: 100, yTicks: qolFacetTicks, showY: false },
  { id: 'resilient', label: 'Resilient', labelWidth: 83, left: 1506.6, right: 1824, color: colTeal, lines: spagResilient, smooth: spagResilientSmooth, lineWidth: 5, yMax: 3, yTicks: hadsFacetTicks, showY: true },
  { id: 'recovering-hads', label: 'Recovering', labelWidth: 109, left: 1836, right: 2153, color: colGreen, lines: spagRecoveringHads, smooth: spagRecoveringHadsSmooth, lineWidth: 3.2, yMax: 3, yTicks: hadsFacetTicks, showY: false },
  { id: 'delayed', label: 'Delayed occurence', labelWidth: 185, left: 2163.7, right: 2480.5, color: colOrange, lines: spagDelayed, smooth: spagDelayedSmooth, lineWidth: 2.8, yMax: 3, yTicks: hadsFacetTicks, showY: false },
  { id: 'stable', label: 'Stable moderate/high', labelWidth: 207, left: 2493, right: 2810, color: colRed, lines: spagStable, smooth: spagStableSmooth, lineWidth: 4, yMax: 3, yTicks: hadsFacetTicks, showY: false }
];
facets.forEach(drawFacet);
</script>
</body>
</html>
